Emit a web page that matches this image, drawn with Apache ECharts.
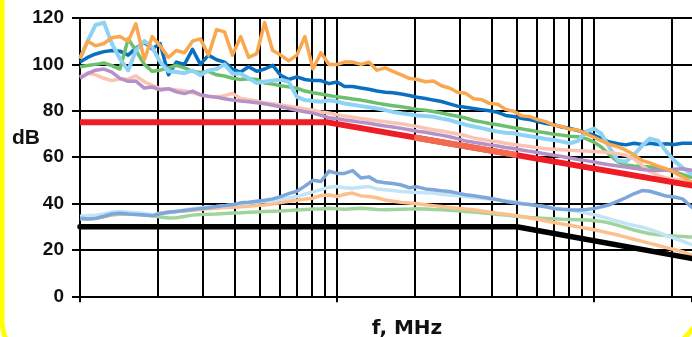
<!DOCTYPE html>
<html><head><meta charset="utf-8">
<script src="https://cdn.jsdelivr.net/npm/echarts@6/dist/echarts.min.js"></script>
<style>html,body{margin:0;padding:0;background:#fff}#c{width:692px;height:337px}</style>
</head><body><div id="c"></div>
<script>
// Frequency grid (MHz)
const freq = [0.1,0.107,0.115,0.124,0.133,0.143,0.154,0.165,0.178,0.191,
0.205,0.221,0.237,0.255,0.274,0.294,0.316,0.34,0.365,0.392,
0.422,0.453,0.487,0.523,0.562,0.604,0.649,0.698,0.75,0.806,
0.866,0.931,1.0,1.07,1.15,1.24,1.33,1.43,1.54,1.65,
1.78,1.91,2.05,2.21,2.37,2.55,2.74,2.94,3.16,3.4,
3.65,3.92,4.22,4.53,4.87,5.23,5.62,6.04,6.49,6.98,
7.5,8.06,8.66,9.31,10.0,10.7,11.5,12.4,13.3,14.3,
15.4,16.5,17.8,19.1,20.5,22.1,23.7,25.5];

const orange = [102.5,110,108,109,111.5,112,110,117.5,102,112,
108,103,106,105,110,111,104,115,114,104,
112,103,104.6,118,106,104,101.5,104,112,98,
105,100,100,101,101,100,101,97.5,98.5,97,
95.5,94,93.5,92.5,92.8,90.8,89.8,88,87.6,85.2,
84.8,83.2,82.8,80.6,79.8,77.8,77.5,76.2,75.3,73.8,
73.2,72,71.7,70,68.5,67,65.5,64.5,63,61,
58.5,57.5,56,55,53.5,51.5,49.5,48];

const darkBlue = [101,103,104.5,105.5,106,105.7,104,107,109.5,106.7,
109,95.5,101,100,106.5,100,104,102,101,98,
96.7,99,97,98,99.6,95.3,93.5,94.6,93.5,93,
93,91.7,92.4,90.5,90.5,89.8,89.3,88.5,88,87.8,
87.2,86.6,85.8,85.3,84.6,84,83,82,81.5,81,
80.5,80,79.3,78,77.5,76.7,76.2,75.3,74.5,74,
73,72.4,71.5,70.5,69.5,68,66.5,65.8,65.3,66,
65.5,66,65.5,65.8,65.5,66,66,66];

const lightBlue = [102.4,110,117,118,109,102.4,97.4,106,110,107.4,
101,97,96.7,96.2,97.4,95.3,97.4,98,100,96,
96,94,92,92.5,93,93.3,92.5,86,84.6,84.2,
83.9,84.5,84,83.1,82.6,82,81.5,81,80.3,79.5,
78.9,78.5,78,77.7,77.4,76.6,76,75,74,73.2,
72.5,71.7,71,70.5,70.3,69.6,69,68.5,67.8,67.4,
66.7,66,67,71,72.3,70,64,58.5,58,61,
65,68,67,62.5,58.5,55.5,53,52];

const green = [99,99.5,100,100.6,99.5,98,111,106,100,97,
97.5,98.5,99.6,98.5,97,96.5,97,95.5,95,94,
93.5,93.8,93.5,92,91.5,90.8,90.3,89.7,88.5,87.8,
87.2,86.6,86,85.6,85.1,84.6,84,83.3,82.7,82.2,
81.7,81.2,80.6,80.2,79.7,79,78.3,77.6,76.9,75.8,
75.2,74.5,74,73.3,72.7,72.2,71.6,71,70.5,69.9,
69.5,69,68.8,68,66.5,64.3,61,58,56.6,56.2,
56,55.8,55.3,54.5,53.6,52.6,51.4,51];

const salmon = [94.5,96.3,95.5,94,93,93.8,93.6,95,92.5,91,
89.6,89.4,89,88.6,87.8,86.8,86.2,86,86.5,87.5,
85.3,84.8,84.2,83.3,83,82.5,82,81.4,80.8,80.2,
79.5,79,78.3,77.7,77.2,76.7,76.2,75.7,75.3,74.8,
74.4,73.8,73.2,72.5,71.8,71.3,70.6,70,69.3,68.3,
67.7,67.1,66.6,66,65.5,65,64.6,64.1,63.6,63.4,
63.2,63,62.8,62.6,62.4,62.2,62,61.5,60.8,59.3,
56.5,53.8,52,51,50.5,50,49.6,49.3];

const purple = [94,96,97.5,98,96.7,94,92.7,92.8,89.8,90.2,
89,89.5,88.2,87.4,88.5,86.9,86.3,85.8,85.2,84.6,
84.2,83.9,83.5,83,82.4,81.7,81,80.2,79.6,79,
78,77,76.6,76,75.6,75,74.6,74,73.4,73,
72.4,71.8,71.2,70.7,70.1,69.5,68.8,68,67,66.4,
65.9,65.3,64.8,64.2,63.7,63.1,62.5,62,61.4,60.8,
60.3,59.6,59,58.5,57.9,57.3,56.7,56.2,55.7,55.2,
54.7,54.3,54.2,54.5,54.8,55,54.5,54];

const midBlueLow = [33.7,33.3,33.6,34.5,35.5,35.8,35.5,35.3,35.1,34.7,
35.6,36.2,36.6,37,37.4,37.8,38.2,38.7,39.1,39.5,
40.3,40.6,41,41.4,42,43,44.3,45.3,47.5,50,
49.5,54,53,53,54.2,51,51.5,49.5,49,48.6,
48,46.8,47.2,46.3,45.9,45.5,45.2,44.5,43.8,43.4,
42.8,42.3,41.6,40.9,40.3,39.9,39.6,39,38.6,37.8,
37.5,37.3,37.2,37.4,37.8,38.6,39.5,41,42.5,44.2,
45.6,45.3,44.2,43.2,42.8,42,39,36];

const paleBlueLow = [34.5,34.8,35,35.5,36.3,36.6,36.3,36,35.7,35.3,
35.5,36,36.6,37.2,37.8,38.2,38.5,38.7,39,39.4,
39.9,40.1,40.5,40.9,41.2,41.8,42.4,43,44,45,
46,47,47.3,46.8,46.6,47,47.3,46.3,45.9,45.6,
45.2,45,44.8,44.6,44.5,44,43.7,43.3,43,42.6,
42.3,42,41.6,41.2,40.8,40.1,39.6,39.1,38.6,38.1,
37.6,37.2,36.6,35.9,35.2,34.3,33.4,32.3,31.4,30.6,
29.8,28.8,27.6,26.3,25,23.8,22.5,21.5];

const paleOrangeLow = [33.5,33.3,33.5,34.5,35.3,35.6,35.8,35.6,35.3,35,
35.9,36.4,36.6,36.8,37.1,37.4,37.7,38,38.3,38.4,
38.6,38.8,39.1,39.4,39.8,40.4,41,41.4,41.9,42.3,
43.5,43.7,43,44,44.5,43.3,43,42.5,41.5,41,
40.5,40.2,39.9,39.5,39.1,38.7,38.3,38,37.6,37.3,
36.8,36.3,35.8,35.4,35,34.4,33.8,33.2,32.5,31.8,
31.2,30.6,30,29.3,28.7,28,27.2,26.4,25.5,24.6,
23.7,22.8,21.9,21,20.2,19.2,18,17.2];

const paleGreenLow = [33.5,33.4,33.6,34.3,35,35.4,35.6,35.4,35.1,34.8,
34.2,33.8,33.9,34.4,35,35.3,35.4,35.5,35.7,35.9,
36,36.2,36.4,36.6,36.7,36.8,37,37.2,37.4,37.6,
37.6,38,37.7,37.5,37.8,38,37.7,37.4,37.3,37.4,
37.5,37.6,37.8,37.6,37.4,37.3,37.1,36.9,36.6,36.3,
36,35.7,35.3,35,34.6,34.3,34,33.8,33.6,33.4,
33.2,33.1,33,32.9,32.7,32.3,31.6,30.6,29.6,28.6,
27.7,27,26.5,26.2,26,25.8,25.6,25.5];

// Limit lines
const redLimitFreq = [0.1, 0.92, 30];
const redLimitVals = [75, 75, 45.9];
const coralFreq = [2, 5];
const coralVals = [68.5, 60.9];
const blackLimitFreq = [0.1, 5, 30];
const blackLimitVals = [30, 30, 14.4];

// Axis range / ticks
const xMin = 0.1, xMax = 24.06;
const yTicks = [0, 20, 40, 60, 80, 100, 120];
const minorGridFreq = [0.2,0.3,0.4,0.5,0.6,0.7,0.8,0.9,2,3,4,5,6,7,8,9,20];

function pairs(fs, vs) { return fs.map((f, i) => [f, vs[i]]); }
function curve(vals, color, w, extra) {
  return Object.assign({
    type: 'line', data: pairs(freq, vals), showSymbol: false, silent: true,
    lineStyle: { color: color, width: w, join: 'round' }, itemStyle: { color: color }, z: 2
  }, extra || {});
}

const chart = echarts.init(document.getElementById('c'), null, { renderer: 'canvas' });
const FONT = '"Liberation Sans", Arial, sans-serif';
chart.setOption({
  animation: false,
  backgroundColor: '#fff',
  grid: { left: 80, top: 18, right: 0, height: 278.3 },
  xAxis: {
    type: 'log', logBase: 10, min: xMin, max: xMax,
    axisLine: { show: true, lineStyle: { color: '#000', width: 2 } },
    axisTick: { show: true, inside: false, length: 6, lineStyle: { color: '#000', width: 2 } },
    axisLabel: { show: false },
    splitLine: { show: true, showMaxLine: false, lineStyle: { color: '#000', width: 2 } }
  },
  yAxis: {
    type: 'value', min: yTicks[0], max: yTicks[yTicks.length - 1], interval: 20,
    axisLine: { show: true, lineStyle: { color: '#000', width: 2 } },
    axisTick: { show: true, length: 8, lineStyle: { color: '#000', width: 2 } },
    axisLabel: { color: '#111', fontFamily: FONT, fontWeight: 'bold', fontSize: 19, margin: 16 },
    splitLine: { show: true, lineStyle: { color: '#000', width: 2 } }
  },
  graphic: [
    { type: 'rect', z: 100, silent: true,
      shape: { x: 2, y: -100, width: 710, height: 465, r: [0, 0, 93, 45] },
      style: { fill: 'none', stroke: '#FFFF00', lineWidth: 5 } },
    { type: 'text', z: 100, style: { text: 'dB', x: 12, y: 138, verticalAlign: 'middle',
      font: 'bold 21px ' + FONT, fill: '#111' } },
    { type: 'text', z: 100, style: { text: 'f, MHz', x: 407, y: 329, align: 'center', verticalAlign: 'middle',
      font: 'bold 20px "DejaVu Sans", sans-serif', fill: '#111' } }
  ],
  series: [
    curve(darkBlue, '#0A6FBE', 3.5, {
      markLine: { silent: true, symbol: ['none', 'none'], z: 1, label: { show: false },
        lineStyle: { color: '#000', width: 2, type: 'solid' },
        data: minorGridFreq.map(f => ({ xAxis: f })) }
    }),
    curve(green, '#6CBF6C', 3.5),
    curve(lightBlue, '#8ED3F4', 4),
    curve(salmon, '#F9C4B2', 3.5),
    curve(purple, '#B591C8', 3.5),
    curve(orange, '#F9A84F', 3.5),
    curve(paleGreenLow, '#A0D49C', 3.5),
    curve(paleOrangeLow, '#FCC08C', 3.5),
    curve(paleBlueLow, '#C3E4F7', 3.5),
    curve(midBlueLow, '#7DA7DB', 3.5),
    { type: 'line', data: pairs(redLimitFreq, redLimitVals), showSymbol: false, silent: true, z: 3,
      lineStyle: { color: '#EE1C25', width: 6 } },
    { type: 'line', data: pairs(coralFreq, coralVals), showSymbol: false, silent: true, z: 4,
      lineStyle: { color: '#F26A4F', width: 6 } },
    { type: 'line', data: pairs(blackLimitFreq, blackLimitVals), showSymbol: false, silent: true, z: 3,
      lineStyle: { color: '#000', width: 5.5, cap: 'round' } }
  ]
});
</script>
</body></html>
